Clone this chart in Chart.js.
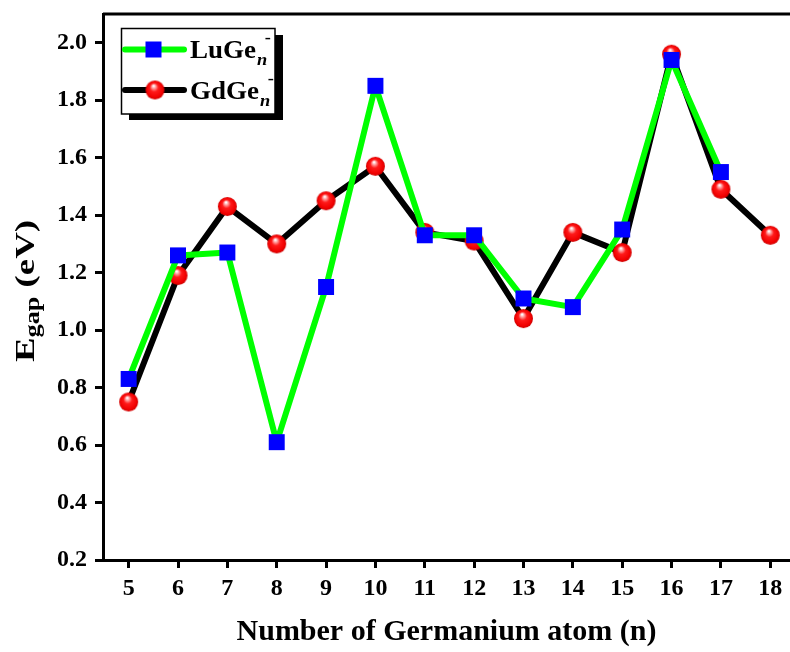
<!DOCTYPE html>
<html><head><meta charset="utf-8">
<script src="https://cdn.jsdelivr.net/npm/chart.js@4"></script>
<style>
html,body{margin:0;padding:0;background:#fff;overflow:hidden;width:790px;height:652px;}
#c{display:block;}
</style></head><body>
<canvas id="c" width="790" height="652" style="width:790px;height:652px;"></canvas>
<script>
// ---- data ----
const atoms = [5,6,7,8,9,10,11,12,13,14,15,16,17,18];
const luGe  = [0.83,1.26,1.27,0.61,1.15,1.85,1.33,1.33,1.11,1.08,1.35,1.94,1.55,null];
const gdGe  = [0.75,1.19,1.43,1.30,1.45,1.57,1.34,1.31,1.04,1.34,1.27,1.96,1.49,1.33];
const yTicks = [0.2,0.4,0.6,0.8,1.0,1.2,1.4,1.6,1.8,2.0];
const seriesNames = ['LuGe','GdGe'];
const xTitle = 'Number of Germanium atom (n)';
// visible axis ranges (the reference figure is cropped just before its right frame)
const xRange = [4.48, 18.40];
const yRange = [0.2, 2.1];

const SERIF = "'Liberation Serif','Times New Roman',serif";

function sphere(r){
  const s = Math.ceil(2*r+2);
  const c = document.createElement('canvas'); c.width = s; c.height = s;
  const g = c.getContext('2d'); const cx = s/2, cy = s/2;
  const grad = g.createRadialGradient(cx - r*0.15, cy - r*0.45, r*0.05, cx, cy, r);
  grad.addColorStop(0, '#ffffff');
  grad.addColorStop(0.18, '#ff9a9a');
  grad.addColorStop(0.42, '#ff1a1a');
  grad.addColorStop(0.85, '#f00000');
  grad.addColorStop(1, '#c80000');
  g.fillStyle = grad; g.beginPath(); g.arc(cx, cy, r, 0, Math.PI*2); g.fill();
  return c;
}
const ball = sphere(9.5);

const toPts = arr => atoms.map((n,i)=>({x:n, y:arr[i]})).filter(p => p.y !== null);

const frameAndText = {
  id:'frameAndText',
  afterDraw(chart){
    const {ctx, chartArea:a} = chart;
    ctx.save();
    // top frame line
    ctx.strokeStyle = '#000'; ctx.lineWidth = 3;
    ctx.beginPath(); ctx.moveTo(a.left, a.top); ctx.lineTo(a.right + 5, a.top); ctx.stroke();

    // y title: E_gap (eV), rotated
    ctx.save();
    ctx.translate(34, 291);
    ctx.rotate(-Math.PI/2);
    ctx.fillStyle = '#000';
    ctx.textBaseline = 'alphabetic';
    const fMain = 'bold 28px ' + SERIF, fSub = 'bold 20px ' + SERIF;
    ctx.font = fMain; const wE = ctx.measureText('E').width;
    ctx.font = fSub; const wG = ctx.measureText('gap').width;
    ctx.font = fMain; const wR = ctx.measureText(' (eV)').width;
    const total = wE + wG + wR;
    const sx = 142 / total;
    ctx.scale(sx, 1);
    let x0 = -total/2;
    ctx.textAlign = 'left';
    ctx.font = fMain; ctx.fillText('E', x0, 0); x0 += wE;
    ctx.font = fSub; ctx.fillText('gap', x0, 5); x0 += wG;
    ctx.font = fMain; ctx.fillText(' (eV)', x0, 0);
    ctx.restore();

    // legend
    ctx.fillStyle = '#000';
    ctx.fillRect(129, 35, 154, 85);
    ctx.fillStyle = '#fff';
    ctx.fillRect(121.5, 28.5, 153.5, 85.5);
    ctx.strokeStyle = '#000'; ctx.lineWidth = 1.5;
    ctx.strokeRect(121.5, 28.5, 153.5, 85.5);

    ctx.lineCap = 'round';
    ctx.lineWidth = 6;
    ctx.strokeStyle = '#00ff00';
    ctx.beginPath(); ctx.moveTo(125, 49.5); ctx.lineTo(184, 49.5); ctx.stroke();
    ctx.fillStyle = '#0000ff';
    ctx.fillRect(145.5, 41.5, 16, 16);
    ctx.strokeStyle = '#000';
    ctx.beginPath(); ctx.moveTo(125, 90); ctx.lineTo(184, 90); ctx.stroke();
    ctx.drawImage(ball, 155 - ball.width/2, 90 - ball.height/2);

    const entries = [[seriesNames[0], 58], [seriesNames[1], 99]];
    ctx.fillStyle = '#000'; ctx.textAlign = 'left'; ctx.textBaseline = 'alphabetic';
    for (const [name, by] of entries){
      ctx.save();
      ctx.translate(190, by);
      ctx.scale(1.08, 1);
      ctx.font = 'bold 25px ' + SERIF;
      ctx.fillText(name, 0, 0);
      const w = ctx.measureText(name).width;
      ctx.font = 'italic bold 17px ' + SERIF;
      ctx.fillText('n', w + 1, 7);
      ctx.font = 'bold 17px ' + SERIF;
      ctx.fillText('-', w + 8, -15);
      ctx.restore();
    }
    ctx.restore();
  }
};

const tickFont = {family:SERIF, size:24, weight:'bold'};
const gridOpts = {display:true, drawOnChartArea:false, drawTicks:true, tickLength:8, tickWidth:3, tickColor:'#000'};
const borderOpts = {display:true, width:3, color:'#000'};
const noPad = s => { s.paddingLeft = 0; s.paddingRight = 0; s.paddingTop = 0; s.paddingBottom = 0; };

new Chart(document.getElementById('c'), {
  type:'line',
  data:{
    datasets:[
      {label:seriesNames[0], data:toPts(luGe), borderColor:'#00ff00', borderWidth:6,
       pointStyle:'rect', pointRadius:11.3, pointBackgroundColor:'#0000ff', pointBorderWidth:0, pointBorderColor:'#0000ff',
       borderJoinStyle:'round', borderCapStyle:'round', tension:0, fill:false},
      {label:seriesNames[1], data:toPts(gdGe), borderColor:'#000000', borderWidth:6,
       pointStyle:ball, pointRadius:9.5, pointBackgroundColor:'#ff0000', pointBorderWidth:0,
       borderJoinStyle:'round', borderCapStyle:'round', tension:0, fill:false}
    ]
  },
  options:{
    responsive:false, maintainAspectRatio:false, animation:false, devicePixelRatio:1, events:[],
    layout:{autoPadding:false, padding:{top:14, right:0, left:0, bottom:0}},
    plugins:{legend:{display:false}, tooltip:{enabled:false}},
    scales:{
      x:{type:'linear', min:xRange[0], max:xRange[1],
         afterBuildTicks: s => { s.ticks = atoms.map(v => ({value:v})); },
         ticks:{font:tickFont, color:'#000', padding:6, autoSkip:false, maxRotation:0},
         grid:gridOpts, border:borderOpts,
         title:{display:true, text:xTitle, color:'#000', font:{family:SERIF, size:30, weight:'bold'}, padding:{top:0, bottom:2}},
         afterFit: s => { s.height = 92; noPad(s); }
      },
      y:{min:yRange[0], max:yRange[1],
         afterBuildTicks: s => { s.ticks = yTicks.map(v => ({value:v})); },
         ticks:{font:tickFont, color:'#000', padding:8, callback: v => Number(v).toFixed(1)},
         grid:gridOpts, border:borderOpts,
         afterFit: s => { s.width = 103; noPad(s); }
      }
    }
  },
  plugins:[frameAndText]
});
</script>
</body></html>
